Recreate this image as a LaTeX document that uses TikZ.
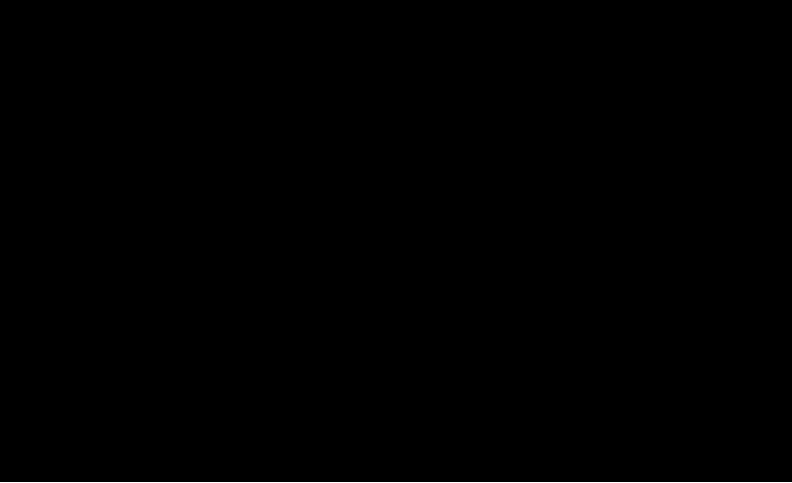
\documentclass[tikz,border=0pt]{standalone}
\begin{document}
\begin{tikzpicture}
  [x=1pt,y=-1pt,every path/.style={fill=black}]
  \useasboundingbox (0,0) rectangle (792,482);

  % each row: first x / last x / height / number of dots
  \foreach \xa/\xb/\yy/\n in {44/46/451/1,48/50/395/1,51/53/394/1,55/65/363/3,66/80/333/4,
      81/98/308/4,100/120/284/5,122/146/263/6,147/176/240/7,178/210/235/8,211/247/213/9,
      248/288/202/10,288/332/135/10,334/432/127/22,434/488/85/12,490/548/77/13,
      548/611/47/14,612/678/33/14,679/747/30/15}
  {
    \pgfmathsetmacro\gap{(\xb-\xa-2)/max(\n-1,1)}
    \foreach \i in {1,...,\n}
      \fill (\xa+\gap*\i-\gap,\yy-1) rectangle ++(2,2);
  }
\end{tikzpicture}
\end{document}
